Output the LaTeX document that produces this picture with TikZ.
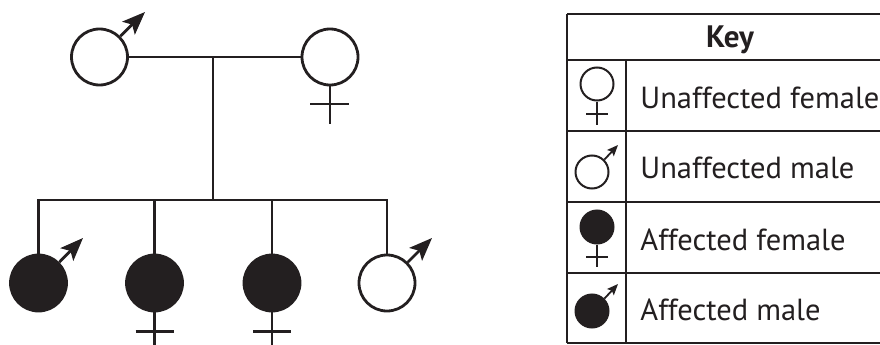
\documentclass[tikz,border=0pt]{standalone}
\usepackage{fontspec}
\setmainfont{PT Sans}
\usepackage{tikz}
\usetikzlibrary{arrows.meta,positioning,calc}
\definecolor{ink}{HTML}{231F20}

\begin{document}
\begin{tikzpicture}[x=1pt,y=-1pt,line width=2.8pt,draw=ink,
 >={Stealth[length=23pt,width=18pt,inset=5pt]},
 person/.style={circle,draw=ink,minimum size=56pt,inner sep=0pt},
 affected/.style={fill=ink},
 keysym/.style={circle,draw=ink,line width=2pt,minimum size=33pt,inner sep=0pt},
 keytext/.style={anchor=base west,inner sep=0pt,text=ink,font=\fontsize{30.5}{34}\selectfont}]
\useasboundingbox (0,0) rectangle (880,345);
% parents
\node[person] (dad) at (99.5,57) {};
\node[person] (mom) at (330,57) {};
\coordinate (dadtip) at (145,12);
\draw[->] (dad.45) -- (dadtip);
\draw (mom.south) -- ++(0,38);
\draw (310,104) -- (349,104);
\draw (dad) -- (mom);
% children
\node[person,affected] (c1) at (38.5,283) {};
\node[person,affected] (c2) at (154.5,283) {};
\node[person,affected] (c3) at (272,283) {};
\node[person] (c4) at (387,283) {};
\coordinate (mid) at (213,57);
\coordinate (sib) at (213,200);
\draw (mid) -- (sib);
\draw (c1.north) |- (sib) -| (c4.north);
\draw (c2.north) -- (c2.north |- sib);
\draw (c3.north) -- (c3.north |- sib);
\coordinate (c1tip) at (83,238);
\coordinate (c4tip) at (432,238);
\draw[->] (c1.45) -- (c1tip);
\draw[->] (c4.45) -- (c4tip);
\foreach \c in {c2,c3} {
  \draw (\c.south) -- ++(0,40);
  \draw ($(\c.south)+(-19,19)$) -- ++(38,0);
}
% key
\begin{scope}[line width=2pt]
\foreach \y in {14,60,131,202,273,343}
  \draw (567,\y) -- (895,\y);
\draw (567,14) -- (567,343);
\draw (626,60) -- (626,343);
\end{scope}
\node[anchor=base,inner sep=0pt,text=ink,font=\fontsize{31}{34}\selectfont\bfseries] (keyhead) at (730,48) {Key};
\node[keysym] (kuf) at (597,84) {};
\draw[line width=2pt] (kuf.south) -- ++(0,23);
\draw[line width=2pt] (586,114) -- (608,114);
\node[keysym] (kum) at (592,172) {};
\coordinate (kumtip) at (618,145);
\draw[->,line width=1.8pt,>={Stealth[length=11pt,width=9pt,inset=2pt]}] (kum.45) -- (kumtip);
\node[keysym,affected] (kaf) at (597,227) {};
\draw[line width=2pt] (kaf.south) -- ++(0,22);
\draw[line width=2pt] (586,257) -- (608,257);
\node[keysym,affected] (kam) at (592,311) {};
\coordinate (kamtip) at (618,284);
\draw[->,line width=1.8pt,>={Stealth[length=11pt,width=9pt,inset=2pt]}] (kam.45) -- (kamtip);
\node[keytext] (tuf) at (639,108) {Unaffected female};
\node[keytext] (tum) at (639,178) {Unaffected male};
\node[keytext] (taf) at (639,250) {Affected female};
\node[keytext] (tam) at (639,320) {Affected male};
\end{tikzpicture}
\end{document}
